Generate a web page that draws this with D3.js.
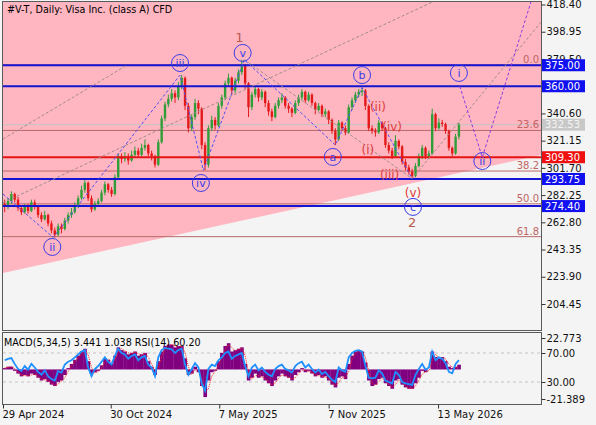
<!DOCTYPE html>
<html><head><meta charset="utf-8">
<script src="https://cdn.jsdelivr.net/npm/d3@7"></script>
<style>
body{margin:0;background:#f4f4f4;}
svg{display:block;}
text{font-family:"DejaVu Sans",sans-serif;}
</style>
</head><body>
<svg id="c" width="596" height="425"></svg>
<script>
// ---------------- DATA ----------------
const title = "#V-T, Daily:  Visa Inc. (class A) CFD";
const indicatorLabel = "MACD(5,34,5) 3.441 1.038 RSI(14) 60.20";
// candles: [open, high, low, close], one per 4 trading days, starting 29 Apr 2024
const candles = [
[276,279,270,274],[274,280,272,278],[278,285,276,283],[283,284,277,279],[279,281,271,273],
[273,275,268,270],[270,276,269,274],[274,276,269,271],[271,279,270,277],[277,279,272,274],
[274,275,266,268],[268,270,263,265],[265,271,264,268],[268,269,260,262],[262,264,255,257],
[257,259,252,254],[254,262,253,260],[260,262,255,258],[258,266,257,264],[264,270,262,268],
[268,273,266,270],[270,277,269,275],[275,282,273,280],[280,289,279,286],[286,293,284,291],
[291,292,278,280],[280,282,270,272],[272,278,271,276],[276,280,274,278],[278,286,277,284],
[284,292,282,290],[290,291,284,286],[286,288,281,283],[283,297,282,295],[295,312,294,310],
[310,312,305,308],[308,313,306,310],[310,312,304,307],[307,314,306,311],[311,317,309,314],
[314,316,309,311],[311,319,310,316],[316,322,314,318],[318,319,310,312],[312,314,307,310],
[310,311,302,304],[304,322,303,320],[320,339,319,337],[337,349,335,347],[347,354,345,351],
[351,358,349,355],[355,357,348,352],[352,363,350,360],[360,368,358,366],[366,367,343,346],
[346,348,327,330],[330,340,328,338],[338,351,336,348],[348,350,340,344],[344,345,315,318],
[318,320,300,304],[304,332,302,330],[330,339,328,336],[336,338,329,332],[332,348,331,346],
[346,354,344,352],[352,364,350,362],[362,369,360,366],[366,367,354,357],[357,366,355,364],
[364,372,362,370],[370,379,368,375],[375,376,358,362],[362,363,338,345],[345,356,343,354],
[354,360,352,358],[358,359,349,352],[352,358,350,356],[356,357,345,348],[348,350,339,342],
[342,344,335,338],[338,348,337,346],[346,352,344,350],[350,355,348,352],[352,353,344,346],
[346,348,341,344],[344,345,338,341],[341,350,340,348],[348,354,346,352],[352,358,350,356],
[356,357,348,350],[350,356,349,354],[354,355,346,348],[348,349,340,343],[343,348,342,346],
[346,347,338,340],[340,344,338,342],[342,343,333,336],[336,337,326,328],[328,330,318,322],
[322,336,321,334],[334,335,328,330],[330,332,325,327],[327,347,326,345],[345,352,343,350],
[350,356,348,354],[354,358,352,356],[356,359,353,357],[357,358,343,346],[346,347,328,330],
[330,332,326,328],[328,330,324,327],[327,336,326,334],[334,335,328,330],[330,331,316,318],
[318,320,312,314],[314,316,308,310],[310,325,309,321],[321,322,315,317],[317,318,304,306],
[306,308,300,302],[302,304,297,299],[299,301,294,296],[296,305,295,303],[303,312,302,310],
[310,318,308,316],[316,317,308,310],[310,314,308,312],[312,344,311,340],[340,341,328,330],
[330,337,329,334],[334,336,331,333],[333,334,326,328],[328,329,314,316],[316,317,310,312],
[312,326,311,324],[324,334,322,332.53]
];
const macd = [1,2,2,-1,-3,-5,-4,-5,-3,-4,
-6,-8,-7,-9,-11,-12,-9,-8,-4,1,
4,7,10,13,15,6,-3,-2,-1,3,
8,7,4,10,16,14,13,11,12,13,
10,11,12,6,2,-4,6,13,17,18,
18,16,17,17,8,-4,-3,2,-2,-12,
-20,-8,-2,-1,6,12,17,19,13,14,
15,16,4,-8,-6,-3,-6,-5,-8,-10,
-12,-8,-5,-3,-5,-6,-8,-4,-2,1,
-2,-1,-3,-5,-4,-6,-5,-8,-11,-13,
-6,-5,-7,4,10,13,14,13,5,-8,
-12,-11,-7,-6,-10,-12,-14,-8,-7,-11,
-13,-14,-14,-10,-6,-1,-2,0,13,9,
8,9,6,2,1,2,3.441];
const signal = [1,1.5,2,0.5,-2,-4,-4.5,-4.5,-4,-3.5,
-5,-7,-7.5,-8,-10,-11.5,-10.5,-8.5,-6,-1.5,
2.5,5.5,8.5,11.5,14,10.5,1.5,-2.5,-1.5,1,
5.5,7.5,5.5,7,13,15,13.5,12,11.5,12.5,
11.5,10.5,11.5,9,4,-1,1,9.5,15,17.5,
18,17,16.5,17,12.5,2,-3.5,-0.5,0,-7,
-16,-14,-5,-1.5,2.5,9,14.5,18,16,13.5,
14.5,15.5,10,-2,-7,-4.5,-4.5,-5.5,-6.5,-9,
-11,-10,-6.5,-4,-4,-5.5,-7,-6,-3,-0.5,
-0.5,-1.5,-2,-4,-4.5,-5,-5.5,-6.5,-9.5,-12,
-9.5,-5.5,-6,-1.5,7,11.5,13.5,13.5,9,-1.5,
-10,-11.5,-9,-6.5,-8,-11,-13,-11,-7.5,-9,
-12,-13.5,-14,-12,-8,-3.5,-1.5,-1,6.5,11,
8.5,8.5,7.5,4,1.5,1.5,1.038];
const rsi = [60,62,63,55,48,45,52,47,55,50,
44,40,46,38,34,32,45,43,54,58,
60,64,68,72,74,50,38,48,52,58,
64,58,54,66,76,70,68,62,66,68,
60,64,66,54,50,38,64,74,77,76,
75,70,74,76,54,40,48,56,50,28,
18,48,54,52,60,64,70,72,62,66,
68,70,52,38,50,54,46,50,44,40,
38,48,52,54,48,46,43,52,56,58,
50,54,48,43,47,41,44,38,33,30,
50,46,44,64,70,73,74,72,52,36,
35,36,46,42,32,30,28,44,40,30,
28,27,26,40,48,55,47,50,72,60,
64,62,56,44,42,55,60.2];

const priceTicks = [418.40,398.95,379.50,360.05,340.60,321.15,301.70,282.25,262.80,243.35,223.90,204.45];
const subTicks = [22.773,-21.389];
const subTickLabels = ["22.773","-21.389"];
const rsiTicks = [70,30];
const xTickDays = [0,129,259,390,521];
const xTickLabels = ["29 Apr 2024","30 Oct 2024","7 May 2025","7 Nov 2025","13 May 2026"];

const blueLevels = [375.00,360.00,293.75,274.40];
const redLevels = [309.30];
const lastPrice = 332.53;
const fibHigh = 375.3, fibLow = 176.7;
const fibLevels = [0,23.6,38.2,50.0,61.8];

// wave anchors in (trading day, price)
const pinkEdge = [[0,226.6],[644.3,310.9]];
const wavePath = [[0,283],[60,252],[212,368],[240,300],[289,379],[398,318],[430,359],[490,294]];
const projPath = [[547,360],[574,309.3],[633,421.6]];
const grayLines = [
  [[0,276.8],[520,421.8]],
  [[0,322.3],[149,375.2]],
  [[289,379],[490,294]],
  [[490,294],[644,405.6]]
];
const majorLabels = [{t:"1",d:283,p:395.2},{t:"2",d:490,p:263}];
const circleLabels = [
  {t:"ii",d:59,p:245.2},{t:"iii",d:212,p:376.6},{t:"iv",d:237,p:290.9},{t:"v",d:287,p:383.8},
  {t:"a",d:395,p:309.5},{t:"b",d:430,p:368},{t:"c",d:491,p:273.8},
  {t:"i",d:546,p:369.5},{t:"ii",d:574,p:306.6}
];
const minorLabels = [
  {t:"(i)",d:437,p:315},{t:"(ii)",d:449,p:345.2},{t:"(iii)",d:463,p:296.6},
  {t:"(iv)",d:466,p:330.9},{t:"(v)",d:491,p:283.8}
];

// ---------------- LAYOUT ----------------
const svg = d3.select("#c");
const L = 3, R = 541, T = 2, B = 330, T2 = 333, B2 = 404;
const barDay = i => 4 * i + 2;
const x = d3.scaleLinear().domain([0, 644.3]).range([L, R]);
const y = d3.scaleLinear().domain([204.45, 418.4]).range([304, 4.5]);
const yM = d3.scaleLinear().domain([-21.389, 22.773]).range([399, 338]);
const yR = d3.scaleLinear().domain([30, 70]).range([382, 353]);
const step = x(4) - x(0);

svg.append("rect").attr("width", 596).attr("height", 425).attr("fill", "#f4f4f4");
const defs = svg.append("defs");
defs.append("clipPath").attr("id", "cm").append("rect").attr("x", L).attr("y", T).attr("width", R - L).attr("height", B - T);
defs.append("clipPath").attr("id", "cs").append("rect").attr("x", L).attr("y", T2).attr("width", R - L).attr("height", B2 - T2);

const main = svg.append("g").attr("clip-path", "url(#cm)");

// pink area above the rising edge
main.append("path")
  .attr("d", d3.line()([[x(pinkEdge[0][0]), y(pinkEdge[0][1])], [x(pinkEdge[1][0]), y(pinkEdge[1][1])], [R, T - 5], [L, T - 5]]) + "Z")
  .attr("fill", "#ffb6c1");

// fib lines
fibLevels.forEach(f => {
  const v = fibHigh - (fibHigh - fibLow) * f / 100;
  main.append("line").attr("x1", L).attr("x2", R).attr("y1", y(v)).attr("y2", y(v))
    .attr("stroke", "#b86a6a").attr("stroke-width", 1);
});
// last price line
main.append("line").attr("x1", L).attr("x2", R).attr("y1", y(lastPrice)).attr("y2", y(lastPrice))
  .attr("stroke", "#c4c4c4").attr("stroke-width", 1);

// candles
const cg = main.append("g");
candles.forEach((c, i) => {
  const [o, h, l, cl] = c;
  const up = cl >= o;
  const col = up ? "#2f9e38" : "#e41a1a";
  const cx = x(barDay(i));
  cg.append("line").attr("x1", cx).attr("x2", cx).attr("y1", y(h)).attr("y2", y(l)).attr("stroke", col).attr("stroke-width", 1);
  const top = y(Math.max(o, cl)), bot = y(Math.min(o, cl));
  cg.append("rect").attr("x", cx - 1.2).attr("width", 2.4).attr("y", top).attr("height", Math.max(1, bot - top)).attr("fill", col);
});

// level lines
blueLevels.forEach(v => {
  main.append("line").attr("x1", L).attr("x2", R).attr("y1", y(v)).attr("y2", y(v)).attr("stroke", "#1414d2").attr("stroke-width", 2);
});
redLevels.forEach(v => {
  main.append("line").attr("x1", L).attr("x2", R).attr("y1", y(v)).attr("y2", y(v)).attr("stroke", "#e41414").attr("stroke-width", 2);
});

// gray dashed lines
const ln = d3.line().x(d => x(d[0])).y(d => y(d[1]));
grayLines.forEach(g => {
  main.append("path").attr("d", ln(g)).attr("fill", "none").attr("stroke", "#a08c8c").attr("stroke-width", 1).attr("stroke-dasharray", "3,2");
});
main.append("path").attr("d", ln(wavePath)).attr("fill", "none").attr("stroke", "#5050f0").attr("stroke-width", 1).attr("stroke-dasharray", "3,2");
main.append("path").attr("d", ln(projPath)).attr("fill", "none").attr("stroke", "#8a3ce0").attr("stroke-width", 1).attr("stroke-dasharray", "3,2");

// fib labels
fibLevels.forEach(f => {
  const v = fibHigh - (fibHigh - fibLow) * f / 100;
  main.append("text").attr("x", R - 2).attr("y", y(v) - 2).attr("text-anchor", "end")
    .attr("font-size", 10).attr("fill", "#c06464").text(f.toFixed(1));
});

// wave labels
circleLabels.forEach(w => {
  const g = main.append("g").attr("transform", `translate(${x(w.d)},${y(w.p)})`);
  g.append("circle").attr("r", 8.5).attr("fill", "none").attr("stroke", "#3c3ce6").attr("stroke-width", 1);
  g.append("text").attr("text-anchor", "middle").attr("dy", "0.36em").attr("font-size", 11).attr("fill", "#3c3ce6").text(w.t);
});
minorLabels.forEach(w => {
  main.append("text").attr("x", x(w.d)).attr("y", y(w.p)).attr("dy", "0.36em").attr("text-anchor", "middle")
    .attr("font-size", 12).attr("fill", "#e03c3c").text(w.t);
});
majorLabels.forEach(w => {
  main.append("text").attr("x", x(w.d)).attr("y", y(w.p)).attr("dy", "0.36em").attr("text-anchor", "middle")
    .attr("font-size", 13).attr("fill", "#b85a50").text(w.t);
});

// title
svg.append("text").attr("x", 7).attr("y", 13).attr("font-size", 9.6).attr("fill", "#000").text(title);

// ---------------- SUB PANEL ----------------
const sub = svg.append("g").attr("clip-path", "url(#cs)");
rsiTicks.forEach(v => {
  sub.append("line").attr("x1", L).attr("x2", R).attr("y1", yR(v)).attr("y2", yR(v))
    .attr("stroke", "#c4c4c4").attr("stroke-dasharray", "3,3");
});
sub.selectAll("rect.h").data(macd).enter().append("rect").attr("class", "h")
  .attr("x", (d, i) => x(barDay(i)) - step / 2).attr("width", step + 0.3)
  .attr("y", d => Math.min(yM(d), yM(0))).attr("height", d => Math.abs(yM(d) - yM(0)))
  .attr("fill", "#800080");
sub.append("path").attr("d", d3.line().x((d, i) => x(barDay(i))).y(d => yM(d))(signal))
  .attr("fill", "none").attr("stroke", "#ff2020").attr("stroke-width", 1).attr("stroke-dasharray", "1,1");
sub.append("path").attr("d", d3.line().x((d, i) => x(barDay(i))).y(d => yR(d))(rsi))
  .attr("fill", "none").attr("stroke", "#1e90ff").attr("stroke-width", 1.8);
svg.append("text").attr("x", 4).attr("y", 346).attr("font-size", 9.6).attr("fill", "#000").text(indicatorLabel);

// ---------------- FRAMES & AXES ----------------
svg.append("rect").attr("x", L - 0.5).attr("y", T - 0.5).attr("width", R - L + 1).attr("height", B - T + 1)
  .attr("fill", "none").attr("stroke", "#5a5a5a");
svg.append("rect").attr("x", L - 0.5).attr("y", T2 - 0.5).attr("width", R - L + 1).attr("height", B2 - T2 + 1)
  .attr("fill", "none").attr("stroke", "#5a5a5a");

function styleAxis(g) {
  g.selectAll("text").attr("font-size", 10).attr("fill", "#111").attr("font-family", "DejaVu Sans, sans-serif");
  g.selectAll("line").attr("stroke", "#333");
  g.select(".domain").remove();
}
svg.append("g").attr("transform", `translate(${R + 0.5},0)`)
  .call(d3.axisRight(y).tickValues(priceTicks).tickFormat(d3.format(".2f")).tickSize(4).tickPadding(1))
  .call(styleAxis);
svg.append("g").attr("transform", `translate(${R + 0.5},0)`)
  .call(d3.axisRight(yM).tickValues(subTicks).tickFormat((d, i) => subTickLabels[i]).tickSize(4).tickPadding(1))
  .call(styleAxis);
svg.append("g").attr("transform", `translate(${R + 0.5},0)`)
  .call(d3.axisRight(yR).tickValues(rsiTicks).tickFormat(d3.format(".2f")).tickSize(4).tickPadding(1))
  .call(styleAxis);
svg.append("g").attr("transform", `translate(0,${B2 + 0.5})`)
  .call(d3.axisBottom(x).tickValues(xTickDays).tickFormat((d, i) => xTickLabels[i]).tickSize(4).tickPadding(2))
  .call(g => { styleAxis(g); g.selectAll("text").attr("text-anchor", "start").attr("dx", "-0.1em"); });

// price boxes on axis
function box(v, bg, fg) {
  const g = svg.append("g").attr("transform", `translate(${R + 1},${y(v)})`);
  g.append("rect").attr("x", 0).attr("y", -6).attr("width", 43).attr("height", 12).attr("fill", bg);
  g.append("text").attr("x", 3).attr("dy", "0.36em").attr("font-size", 10).attr("fill", fg).text(v.toFixed(2));
}
box(lastPrice, "#c8c8c8", "#f4f4f4");
redLevels.forEach(v => box(v, "#f01010", "#ffffff"));
blueLevels.forEach(v => box(v, "#1010f0", "#ffffff"));
</script>
</body></html>
